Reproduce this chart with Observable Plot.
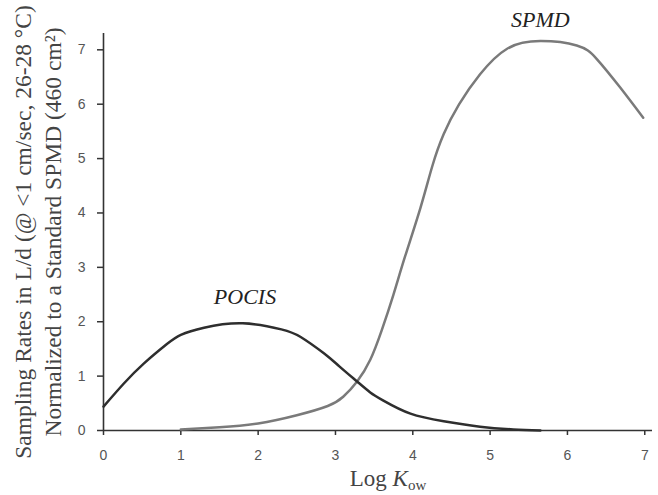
<!DOCTYPE html>
<html>
<head>
<meta charset="utf-8">
<script src="https://cdn.jsdelivr.net/npm/d3@7"></script>
<script src="https://cdn.jsdelivr.net/npm/@observablehq/plot@0.6"></script>
<style>
  body { margin: 0; background: #fff; }
  #chart svg { display: block; }
</style>
</head>
<body>
<div id="chart"></div>
<script>
// POCIS curve (Log Kow, sampling rate)
const pocisLogKow = [0, 0.26, 0.52, 0.82, 1.0, 1.3, 1.8, 2.3, 2.55, 2.85, 3.05, 3.28, 3.45, 3.62, 3.97, 4.4, 4.87, 5.3, 5.65];
const pocisRate   = [0.44, 0.86, 1.23, 1.59, 1.76, 1.89, 1.97, 1.86, 1.72, 1.42, 1.18, 0.9, 0.7, 0.55, 0.31, 0.17, 0.07, 0.02, 0.0];
// SPMD curve
const spmdLogKow = [1.0, 1.5, 2.0, 2.5, 2.9, 3.1, 3.28, 3.45, 3.6, 3.75, 3.9, 4.1, 4.25, 4.4, 4.6, 4.87, 5.22, 5.65, 6.12, 6.38, 6.68, 6.98];
const spmdRate   = [0.02, 0.06, 0.13, 0.28, 0.45, 0.62, 0.9, 1.3, 1.85, 2.5, 3.2, 4.1, 4.85, 5.45, 6.0, 6.55, 7.02, 7.16, 7.08, 6.83, 6.31, 5.75];
// series labels
const labelNames = ["POCIS", "SPMD"];
const labelLogKow = [1.83, 5.65];
const labelRate = [2.45, 7.55];
// ticks and axis titles
const xTicks = [0, 1, 2, 3, 4, 5, 6, 7];
const yTicks = [0, 1, 2, 3, 4, 5, 6, 7];
const xTitle = "Log Kow";
const yTitle = "Sampling Rates in L/d (@ <1 cm/sec, 26-28 °C)\nNormalized to a Standard SPMD (460 cm²)";

const pocis = pocisLogKow.map((x, i) => ({x, y: pocisRate[i]}));
const spmd = spmdLogKow.map((x, i) => ({x, y: spmdRate[i]}));
const labels = labelNames.map((name, i) => ({name, x: labelLogKow[i], y: labelRate[i]}));
const serif = "Liberation Serif, Times New Roman, serif";

const chart = Plot.plot({
  width: 658,
  height: 495,
  marginLeft: 103,
  marginRight: 6,
  marginTop: 33,
  marginBottom: 65,
  x: {domain: [0, 7.1]},
  y: {domain: [0, 7.3]},
  style: {fontFamily: "Liberation Sans, Arial, sans-serif", fontSize: "14px", color: "#444", background: "#fff"},
  marks: [
    Plot.axisX({ticks: xTicks, tickSize: 5, tickPadding: 15, stroke: "#333", strokeWidth: 1.5, fill: "#555", fontSize: 14, label: null}),
    Plot.axisY({ticks: yTicks, tickSize: 6, tickPadding: 12, stroke: "#333", strokeWidth: 1.5, fill: "#555", fontSize: 14, label: null}),
    Plot.ruleY([0], {stroke: "#333", strokeWidth: 1.6}),
    Plot.ruleX([0], {stroke: "#333", strokeWidth: 1.6}),
    Plot.line(spmd, {x: "x", y: "y", curve: "natural", stroke: "#7a7a7a", strokeWidth: 2.5}),
    Plot.line(pocis, {x: "x", y: "y", curve: "natural", stroke: "#2e2e2e", strokeWidth: 2.5}),
    Plot.text(labels, {x: "x", y: "y", text: "name", fontFamily: serif, fontStyle: "italic", fontSize: 22, fill: "#222"}),
    Plot.text([yTitle], {frameAnchor: "left", rotate: -90, dx: -67, lineHeight: 1.28, textAnchor: "middle",
      fontFamily: serif, fontSize: 23.5, fill: "#444"}),
    Plot.text([xTitle], {frameAnchor: "bottom", dx: 10, dy: 55, textAnchor: "middle",
      fontFamily: serif, fontSize: 23, fill: "#444"})
  ]
});
document.getElementById("chart").appendChild(chart);

// italic K with subscript "ow" in the x-axis title
const ns = "http://www.w3.org/2000/svg";
const xl = Array.from(chart.querySelectorAll("text")).find(t => t.textContent === xTitle);
if (xl) {
  xl.textContent = "Log ";
  const k = document.createElementNS(ns, "tspan");
  k.setAttribute("font-style", "italic");
  k.textContent = "K";
  const s = document.createElementNS(ns, "tspan");
  s.setAttribute("font-size", 15);
  s.setAttribute("dy", "0.3em");
  s.textContent = "ow";
  xl.appendChild(k); xl.appendChild(s);
}
</script>
</body>
</html>
